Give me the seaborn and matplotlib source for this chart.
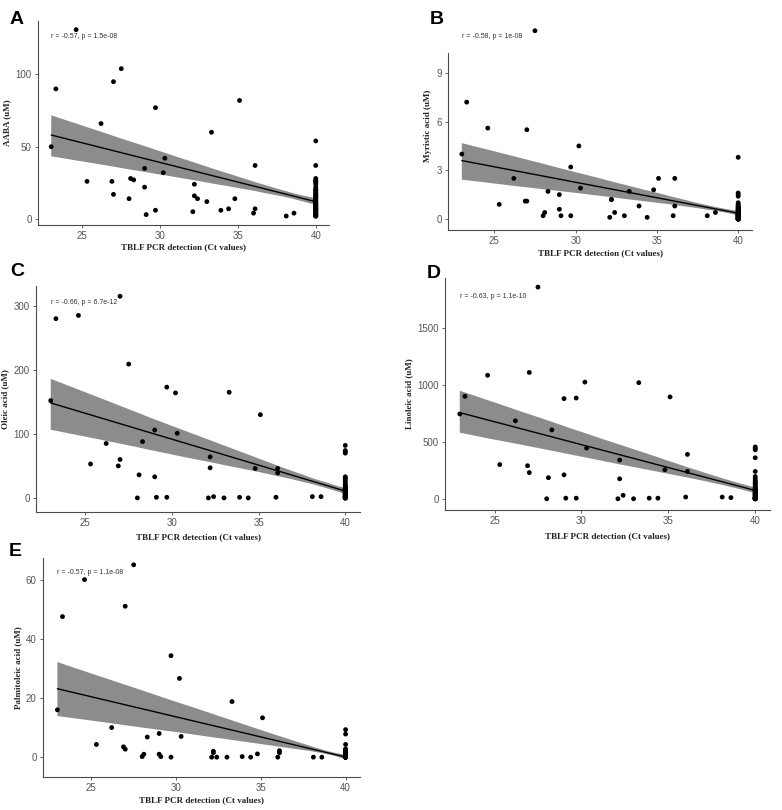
"""
Five-panel correlation figure: metabolite concentration vs TBLF PCR Ct value.
"""
import matplotlib
matplotlib.use("Agg")
import matplotlib.pyplot as plt
import pandas as pd
import seaborn as sns

# ─────────────────────────────────────────────
# Data
# ─────────────────────────────────────────────
# Ct values of samples below the detection limit (shared by all panels)
CT_LOW = [23.0, 23.3, 24.6, 25.3, 26.2, 26.9, 27.0, 27.0, 27.5, 28.0, 28.1, 28.3,
          29.0, 29.0, 29.1, 29.7, 29.7, 30.2, 30.3, 32.1, 32.2, 32.2, 32.4, 33.0,
          33.3, 33.9, 34.4, 34.8, 35.1, 36.0, 36.1, 36.1, 38.1, 38.6]
CT_NEG = 40.0   # undetected samples sit at Ct = 40

AABA_LOW = [50, 90, 131, 26, 66, 26, 95, 17, 104, 14, 28, 27, 35, 22, 3, 77, 6, 32,
            42, 5, 24, 16, 14, 12, 60, 6, 7, 14, 82, 4, 7, 37, 2, 4]
AABA_NEG = [54, 37, 28, 27, 26, 26, 25, 24, 22, 21, 20, 20, 19, 18, 18, 17, 17, 16,
            16, 15, 15, 14, 14, 13, 13, 12, 12, 11, 11, 10, 10, 9, 9, 9, 8, 8, 7, 7,
            7, 6, 6, 6, 5, 5, 4, 4, 4, 3, 3, 3, 2, 2, 2]

MYRI_LOW = [4.0, 7.2, 5.6, 0.9, 2.5, 1.1, 5.5, 1.1, 11.6, 0.2, 0.4, 1.7, 1.5, 0.6,
            0.2, 3.2, 0.2, 4.5, 1.9, 0.1, 1.2, 1.2, 0.4, 0.2, 1.7, 0.8, 0.1, 1.8,
            2.5, 0.2, 2.5, 0.8, 0.2, 0.4]
MYRI_NEG = [3.8, 1.6, 1.5, 1.4, 1.0, 0.9, 0.8, 0.8, 0.7, 0.7, 0.7, 0.6, 0.6, 0.6,
            0.5, 0.5, 0.5, 0.5, 0.4, 0.4, 0.4, 0.4, 0.4, 0.3, 0.3, 0.3, 0.3, 0.3,
            0.3, 0.2, 0.2, 0.2, 0.2, 0.2, 0.2, 0.2, 0.1, 0.1, 0.1, 0.1, 0.1, 0.1,
            0.1, 0.1, 0.0, 0.0, 0.0, 0.0, 0.0, 0.0, 0.0, 0.0, 0.0]

OLEIC_LOW = [152, 280, 285, 53, 85, 50, 60, 315, 209, 0, 36, 88, 33, 106, 1, 173, 1,
             164, 101, 0, 64, 47, 2, 0, 165, 1, 0, 46, 130, 1, 39, 46, 2, 2]
OLEIC_NEG = [82, 74, 72, 70, 33, 31, 30, 27, 25, 22, 20, 18, 17, 16, 15, 15, 14, 14,
             13, 13, 12, 12, 11, 11, 10, 10, 9, 9, 8, 8, 7, 7, 6, 6, 5, 5, 4, 4, 3,
             3, 2, 2, 2, 1, 1, 1, 1, 0, 0, 0, 0, 0, 0]

LINO_LOW = [745, 900, 1085, 300, 685, 290, 1110, 230, 1860, 0, 185, 605, 880, 210, 5,
            885, 5, 1025, 445, 0, 340, 175, 30, 0, 1020, 5, 5, 255, 895, 15, 390,
            240, 15, 10]
LINO_NEG = [455, 440, 430, 360, 240, 195, 175, 160, 150, 140, 130, 120, 110, 100, 95,
            90, 85, 80, 75, 70, 65, 60, 55, 50, 50, 45, 40, 40, 35, 30, 30, 25, 20,
            20, 15, 15, 10, 10, 10, 5, 5, 5, 5, 5, 0, 0, 0, 0, 0, 0, 0, 0, 0]

PALM_LOW = [16, 47.5, 60, 4.3, 10, 3.5, 51, 2.7, 65, 0.2, 1, 6.8, 8, 1, 0.2, 34.3, 0,
            26.6, 7, 0, 2, 1.5, 0, 0, 18.8, 0.2, 0, 1.1, 13.3, 0, 1.5, 2.2, 0, 0]
PALM_NEG = [9.3, 7.8, 4.3, 2.8, 2.5, 2.3, 2.0, 1.8, 1.6, 1.5, 1.4, 1.3, 1.2, 1.1, 1.0,
            1.0, 0.9, 0.9, 0.8, 0.8, 0.7, 0.7, 0.6, 0.6, 0.5, 0.5, 0.4, 0.4, 0.3,
            0.3, 0.3, 0.2, 0.2, 0.2, 0.1, 0.1, 0.1, 0.1, 0.1, 0.0, 0.0, 0.0, 0.0,
            0.0, 0.0, 0.0, 0.0, 0.0, 0.0, 0.0, 0.0, 0.0, 0.0]

X_TICKS = [25, 30, 35, 40]
X_LABEL = "TBLF PCR detection (Ct values)"

# panel letter, y label, values, y ticks, stat label
PANELS = [
    ("A", "AABA (uM)", AABA_LOW, AABA_NEG, [0, 50, 100], "r = -0.57, p = 1.5e-08"),
    ("B", "Myristic acid (uM)", MYRI_LOW, MYRI_NEG, [0, 3, 6, 9], "r = -0.58, p = 1e-08"),
    ("C", "Oleic acid (uM)", OLEIC_LOW, OLEIC_NEG, [0, 100, 200, 300], "r = -0.66, p = 6.7e-12"),
    ("D", "Linoleic acid (uM)", LINO_LOW, LINO_NEG, [0, 500, 1000, 1500], "r = -0.63, p = 1.1e-10"),
    ("E", "Palmitoleic acid (uM)", PALM_LOW, PALM_NEG, [0, 20, 40, 60], "r = -0.57, p = 1.1e-08"),
]

# ─────────────────────────────────────────────
# Layout (pixel boxes: left, top, right, bottom) and limits
# ─────────────────────────────────────────────
W, H = 782, 810
BOXES = {
    "A": (38, 21, 329, 225),
    "B": (448, 21, 752, 230),
    "C": (36, 286, 360, 512),
    "D": (445, 278, 770, 510),
    "E": (43, 558, 360, 777),
}
YLIMS = {"A": (-4.2, 137), "B": (-0.68, 12.2), "C": (-22, 331),
         "D": (-99, 1940), "E": (-6.7, 67.3)}
SPINE_TOP = {"B": 10.2}
LETTER_POS = {"A": (10, 20), "B": (430, 19), "C": (10, 272), "D": (427, 273), "E": (9, 552)}
STAT_POS = {"A": 126.5, "B": 11.25, "C": 305, "D": 1779, "E": 62.3}
XLABEL_Y = {"A": 247, "B": 253, "C": 537, "D": 536, "E": 800}

SPINE_C = "#4a4a4a"
TICK_C = "#555555"

sns.set_theme(style="white")
plt.rcParams["font.family"] = ["Liberation Sans", "DejaVu Sans"]

fig = plt.figure(figsize=(W / 100, H / 100), dpi=100)

for letter, ylab, low, neg, yticks, stat in PANELS:
    l, t, r, b = BOXES[letter]
    ax = fig.add_axes([l / W, 1 - b / H, (r - l) / W, (b - t) / H])
    df = pd.DataFrame({"ct": CT_LOW + [CT_NEG] * len(neg), "val": low + neg})

    sns.regplot(data=df, x="ct", y="val", ax=ax, scatter=False, ci=85,
                color="black", line_kws={"lw": 1.0, "zorder": 3})
    band = ax.collections[-1]
    band.set_facecolor("#8c8c8c")
    band.set_alpha(1.0)
    band.set_edgecolor("none")
    sns.scatterplot(data=df, x="ct", y="val", ax=ax, color="black", s=12,
                    edgecolor="none", zorder=4)

    ax.set_xlim(22.15, 40.85)
    ax.set_ylim(*YLIMS[letter])
    ax.set_xticks(X_TICKS)
    ax.set_yticks(yticks)
    ax.set_xlabel("")
    ax.set_ylabel(ylab, family=["Liberation Serif"], fontweight="bold",
                  fontsize=6.5, labelpad=3)

    for side in ("top", "right"):
        ax.spines[side].set_visible(False)
    for side in ("left", "bottom"):
        ax.spines[side].set_color(SPINE_C)
        ax.spines[side].set_linewidth(0.8)
    if letter in SPINE_TOP:
        ax.spines["left"].set_bounds(YLIMS[letter][0], SPINE_TOP[letter])
    ax.tick_params(axis="both", direction="out", length=2.5, width=0.6,
                   color=SPINE_C, labelcolor=TICK_C, labelsize=7, pad=2,
                   bottom=True, left=True)

    ax.text(23.0, STAT_POS[letter], stat, fontsize=5, color="#333333",
            ha="left", va="center")

    # x label and panel letter in figure pixel space
    fig.text((l + r) / 2 / W, 1 - XLABEL_Y[letter] / H, X_LABEL,
             family=["Liberation Serif"], fontweight="bold", fontsize=6.5,
             color="#222222", ha="center", va="center")
    lx, ly = LETTER_POS[letter]
    fig.text(lx / W, 1 - ly / H, letter, fontsize=14, fontweight="bold",
             color="black", ha="left", va="center")

fig.savefig("out.png", dpi=100, facecolor="white")
